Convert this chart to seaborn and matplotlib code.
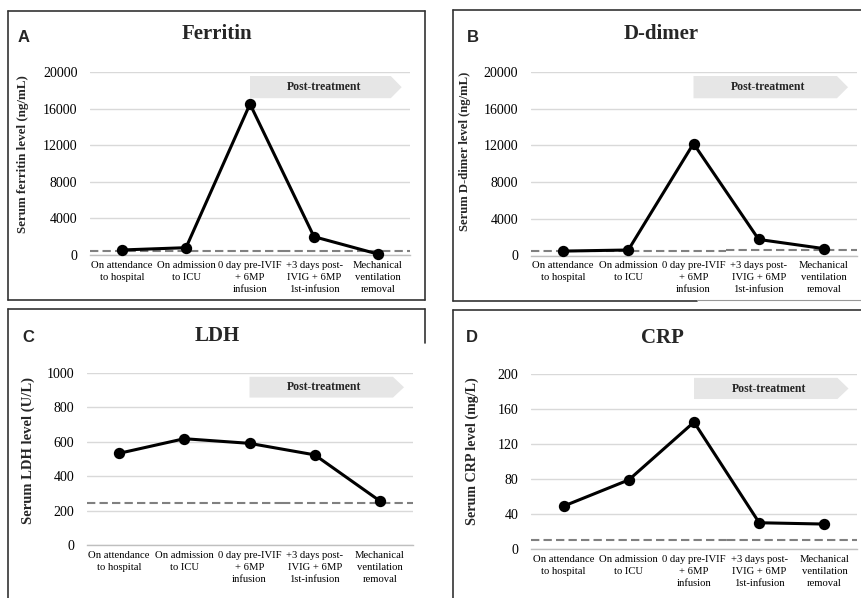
import numpy as np
import pandas as pd
import matplotlib
matplotlib.use("Agg")
import matplotlib.pyplot as plt
from matplotlib.lines import Line2D
from matplotlib.patches import Polygon
import matplotlib.transforms as mtransforms
import seaborn as sns

# ---------------- data ----------------
categories = [
    "On attendance\nto hospital",
    "On admission\nto ICU",
    "0 day pre-IVIF\n+ 6MP\ninfusion",
    "+3 days post-\nIVIG + 6MP\n1st-infusion",
    "Mechanical\nventilation\nremoval",
]
ferritin = [550, 800, 16500, 2000, 100]
ddimer = [480, 600, 12200, 1750, 750]
ldh = [533, 618, 591, 524, 256]
crp = [49, 79, 145, 30, 28.5]

ferritin_ref = [400, 400]
ddimer_ref = [480, 620]
ldh_ref = [246, 246]
crp_ref = [10, 10]

titles = ["Ferritin", "D-dimer", "LDH", "CRP"]
letters = ["A", "B", "C", "D"]
ylabels = ["Serum ferritin level (ng/mL)", "Serum D-dimer level (ng/mL)",
           "Serum LDH level (U/L)", "Serum CRP level (mg/L)"]
yticks_big = [0, 4000, 8000, 12000, 16000, 20000]
yticks_ldh = [0, 200, 400, 600, 800, 1000]
yticks_crp = [0, 40, 80, 120, 160, 200]
banner_text = "Post-treatment"

# ---------------- style ----------------
sns.set_theme(style="white")
plt.rcParams["font.family"] = ["Liberation Serif", "DejaVu Serif"]

W, H = 861, 598
fig = plt.figure(figsize=(W / 100, H / 100), dpi=100)
fig.patch.set_facecolor("white")


def fx(px):
    return px / W


def fy(py):
    return 1 - py / H


def axes_at(left, right, top, bottom):
    return fig.add_axes([fx(left), fy(bottom), (right - left) / W, (bottom - top) / H])


panels = [
    dict(vals=ferritin, ref=ferritin_ref, ticks=yticks_big, box=(90, 410, 72, 255),
         ylx=23, yly=154, ylsize=9.4, tx=217, ty=34, lx=18, ly=37),
    dict(vals=ddimer, ref=ddimer_ref, ticks=yticks_big, box=(530.5, 856.5, 72, 255.5),
         ylx=465, yly=151, ylsize=9.1, tx=661, ty=34, lx=467, ly=38),
    dict(vals=ldh, ref=ldh_ref, ticks=yticks_ldh, box=(86.5, 412.5, 373, 545),
         ylx=28, yly=451, ylsize=10.5, tx=217, ty=336, lx=22, ly=337),
    dict(vals=crp, ref=crp_ref, ticks=yticks_crp, box=(531, 857, 374, 549),
         ylx=472, yly=451, ylsize=10.2, tx=662, ty=338, lx=466, ly=337),
]

for i, p in enumerate(panels):
    left, right, top, bottom = p["box"]
    ax = axes_at(left, right, top, bottom)
    ax.set_facecolor("white")
    df = pd.DataFrame({"stage": categories, "value": p["vals"]})

    # gridlines
    ax.set_ylim(p["ticks"][0], p["ticks"][-1])
    ax.set_yticks(p["ticks"])
    ax.yaxis.grid(True, color="#d9d9d9", lw=1.0)
    ax.set_axisbelow(True)

    # reference dashed line (normal upper limit)
    ax.hlines(p["ref"][0], -0.5, 2.5, colors="#808080", linestyles=(0, (4, 2)), lw=1.5, zorder=2)
    ax.hlines(p["ref"][1], 2.5, 4.5, colors="#808080", linestyles=(0, (4, 2)), lw=1.5, zorder=2)

    sns.pointplot(data=df, x="stage", y="value", order=categories, color="black",
                  linewidth=2.2, markersize=6.5, ax=ax, zorder=4)
    for art in ax.lines + ax.collections:
        art.set_clip_on(False)

    ax.set_xlim(-0.5, 4.5)
    ax.set_ylim(p["ticks"][0], p["ticks"][-1])
    ax.set_xlabel("")
    ax.set_ylabel("")

    for s in ["top", "right", "left"]:
        ax.spines[s].set_visible(False)
    ax.spines["bottom"].set_color("#bfbfbf")
    ax.spines["bottom"].set_linewidth(1.0)
    ax.tick_params(axis="both", length=0)
    ax.tick_params(axis="y", pad=9, labelsize=10, labelcolor="black")
    ax.tick_params(axis="x", pad=4, labelsize=7.7, labelcolor="black")
    for t in ax.get_xticklabels():
        t.set_linespacing(1.45)
    ax.set_yticklabels([str(v) for v in p["ticks"]])

    # post-treatment banner
    trans = mtransforms.blended_transform_factory(ax.transData, ax.transAxes)
    poly = Polygon([(2.0, 0.978), (4.2, 0.978), (4.37, 0.917), (4.2, 0.857), (2.0, 0.857)],
                   closed=True, transform=trans, facecolor="#e6e6e6", edgecolor="none",
                   zorder=3, clip_on=False)
    ax.add_patch(poly)
    ax.text(3.15, 0.917, banner_text, transform=trans, ha="center", va="center",
            fontsize=8.5, fontweight="bold", zorder=5)

    # y label
    fig.text(fx(p["ylx"]), fy(p["yly"]), ylabels[i], rotation=90, ha="center", va="center",
             fontsize=p["ylsize"], fontweight="bold")
    # title
    fig.text(fx(p["tx"]), fy(p["ty"]), titles[i], ha="center", va="center",
             fontsize=15, fontweight="bold")
    # panel letter
    fig.text(fx(p["lx"]), fy(p["ly"]), letters[i], ha="left", va="center",
             fontsize=12, fontweight="bold", family=["Liberation Sans", "DejaVu Sans"])

# panel frames
frame_kw = dict(color="#333333", lw=1.2, transform=fig.transFigure)
segments = [
    # A
    [(8, 11), (425, 11)], [(8, 11), (8, 300)], [(425, 11), (425, 300)], [(8, 300), (425, 300)],
    # B
    [(453, 10), (861, 10)], [(453, 10), (453, 301)], [(453, 301), (697, 301)],
    # C
    [(8, 309), (425, 309)], [(8, 309), (8, 598)], [(425, 309), (425, 343)],
    # D
    [(453, 310), (861, 310)], [(453, 310), (453, 598)],
]
for seg in segments:
    (x0, y0), (x1, y1) = seg
    fig.add_artist(Line2D([fx(x0), fx(x1)], [fy(y0), fy(y1)], **frame_kw))
fig.add_artist(Line2D([fx(697), fx(861)], [fy(300), fy(300)], color="#999999", lw=0.8,
                      transform=fig.transFigure))

fig.savefig("out.png", dpi=100, facecolor="white")
